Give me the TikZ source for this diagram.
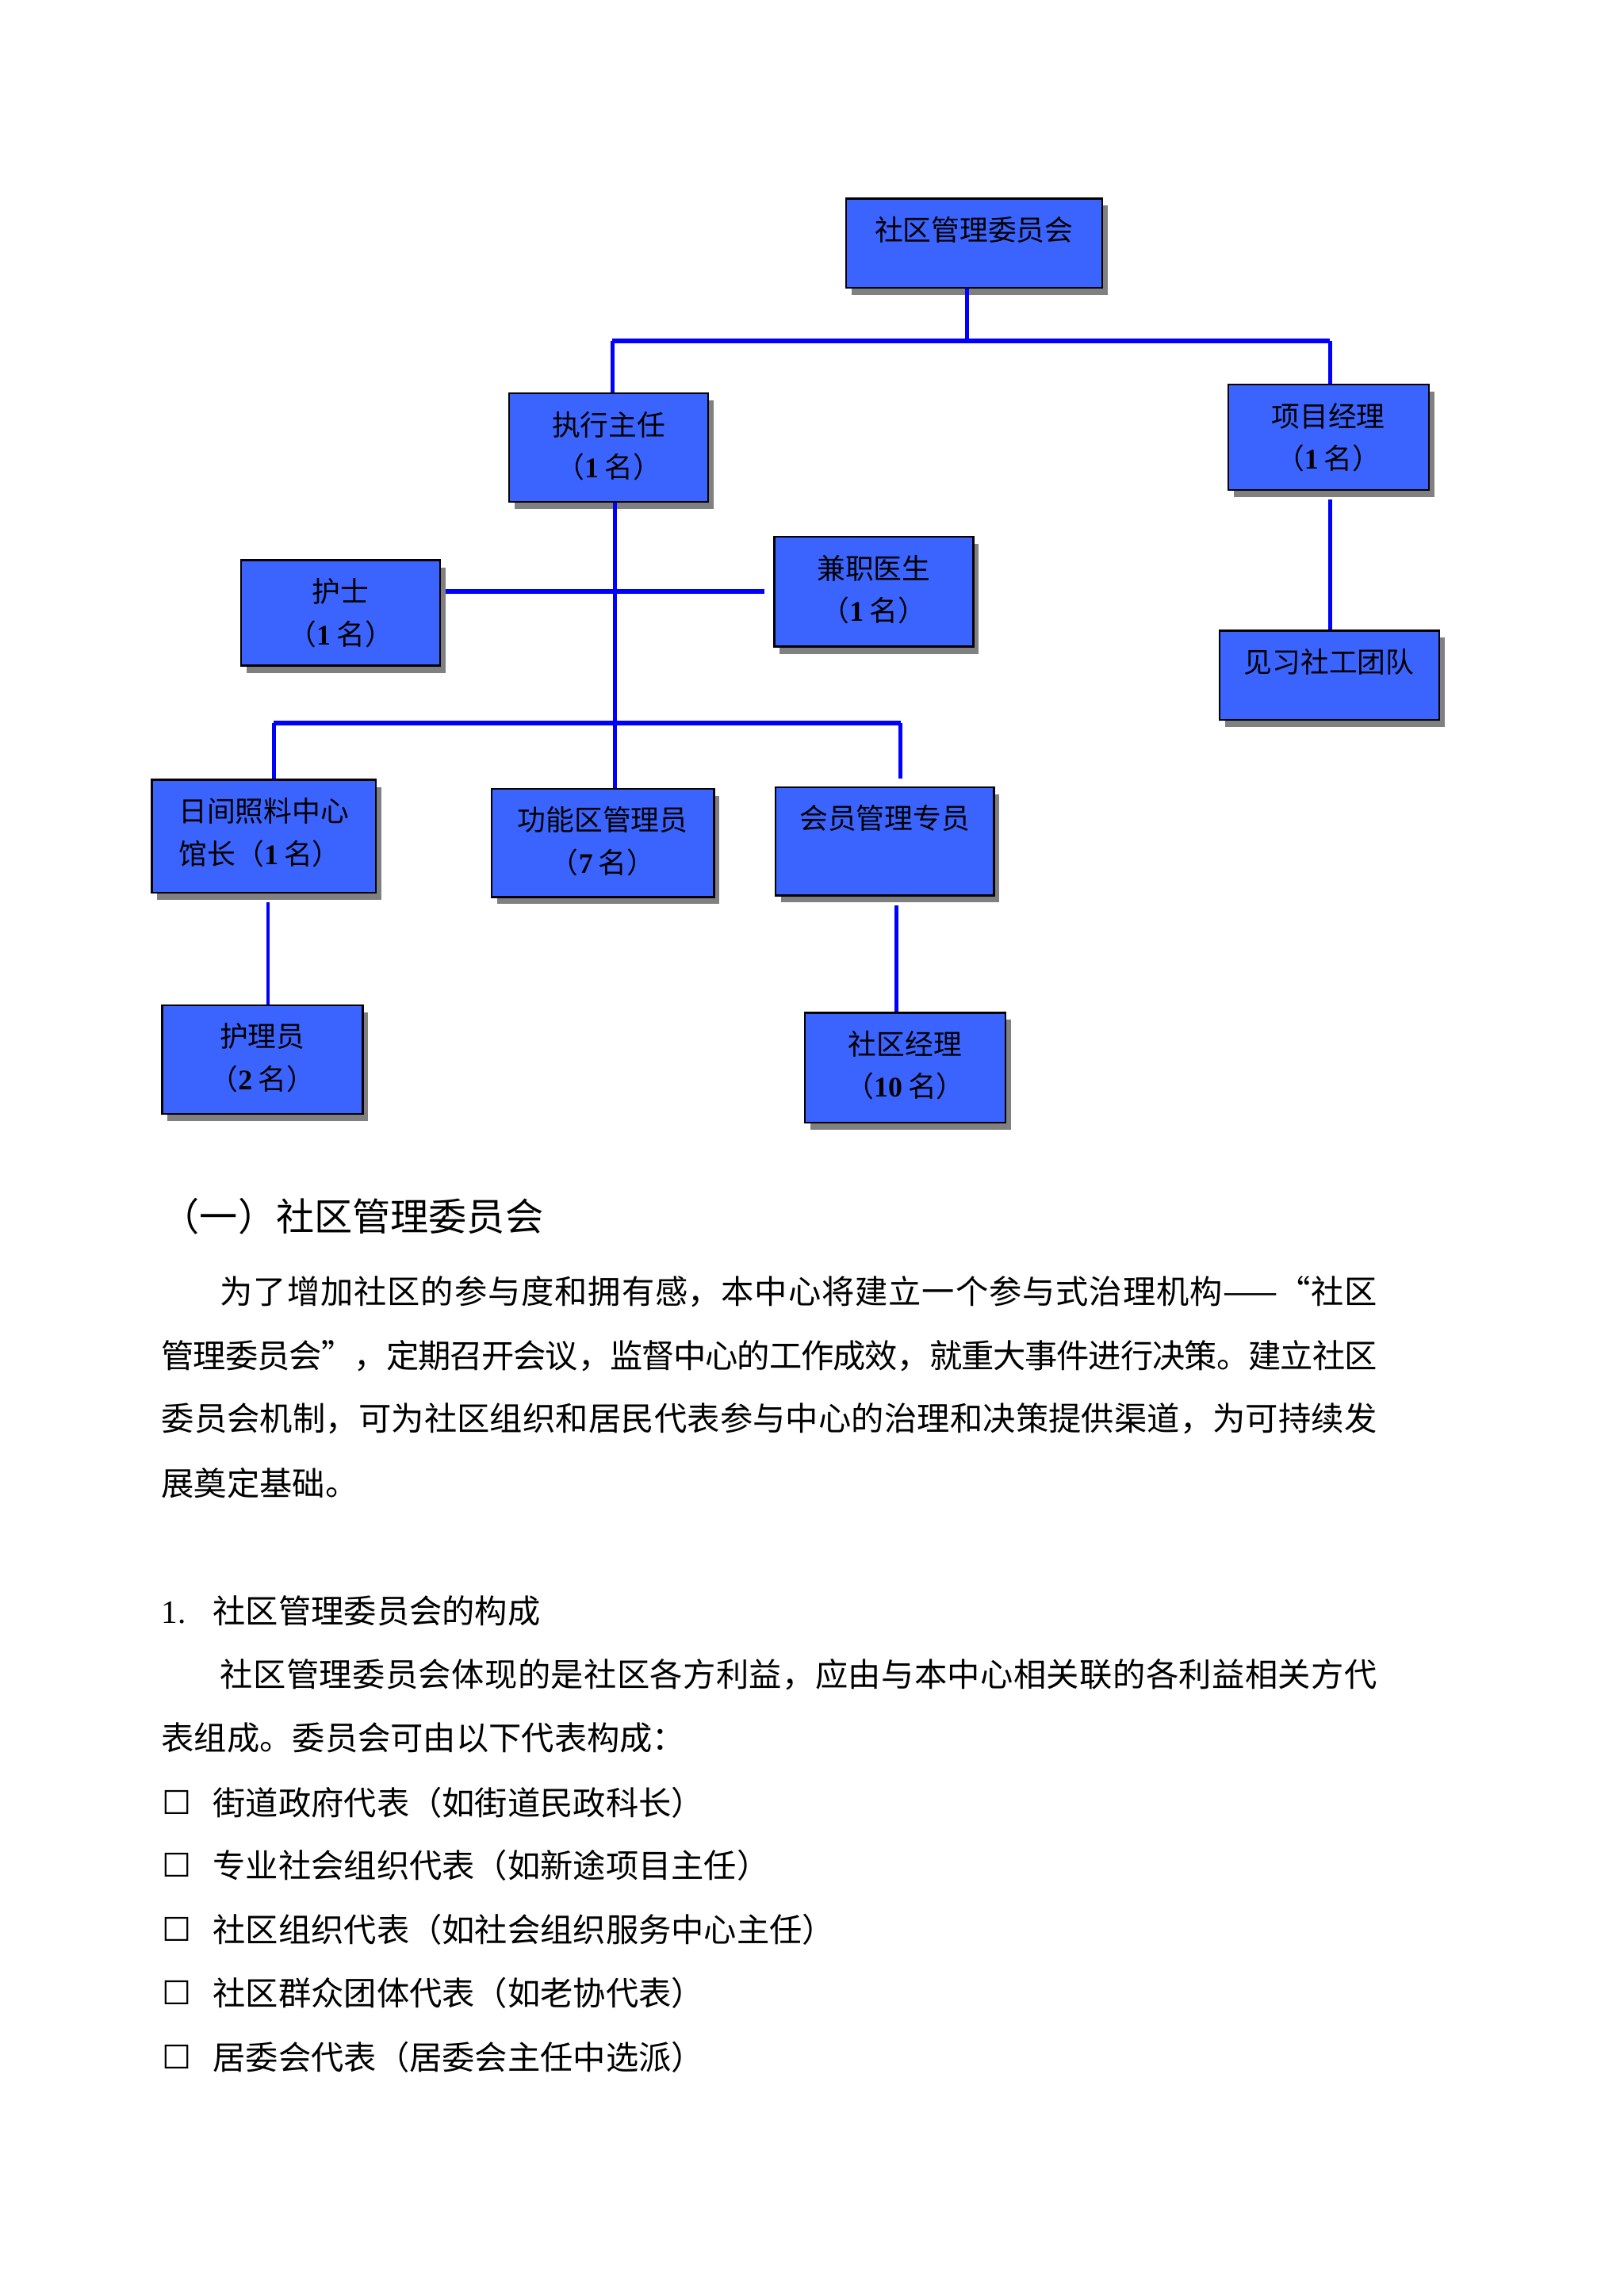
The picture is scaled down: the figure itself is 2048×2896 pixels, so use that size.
\documentclass[tikz,border=0pt]{standalone}
\usepackage{fontspec}
\setmainfont{Noto Sans CJK SC}
\newfontfamily\latin{Liberation Serif}
\newfontfamily\dejavu{DejaVu Sans}
\usetikzlibrary{calc,shadows}
\XeTeXlinebreaklocale "zh"
\XeTeXlinebreakskip=0pt plus 1pt minus 1pt
\definecolor{boxblue}{RGB}{59,100,255}
\definecolor{lineblue}{RGB}{0,0,255}
\definecolor{shadowgray}{RGB}{128,128,128}
\newcommand\num[1]{{\latin\bfseries #1}\hspace{0.2em}}
\newcommand\jl[2]{\parbox{#1}{\XeTeXlinebreaklocale "zh"\XeTeXlinebreakskip=0pt plus 1pt minus 1pt\parindent=0pt\parfillskip=0pt\relax #2}}
\newcommand\orgbox[5]{%
  \pgfmathsetmacro\bw{(#4-#2)*0.2907}%
  \pgfmathsetmacro\bh{(#5-#3)*0.2907}%
  \node[orgnode, minimum width=\bw pt, minimum height=\bh pt] (#1) at (#2,#3) {};}
\tikzset{
  orgnode/.style={draw=black, line width=0.7pt, fill=boxblue, anchor=north west, inner sep=0pt,
    drop shadow={shadow xshift=2pt, shadow yshift=-2.6pt, fill=shadowgray, opacity=1}},
  btxt/.style={font=\fontsize{10.4pt}{12pt}\selectfont, inner sep=0pt, anchor=center},
  body/.style={font=\fontsize{12pt}{14pt}\selectfont, inner sep=0pt, anchor=west},
  hl/.style={draw=lineblue, line width=1.75pt},
  vl/.style={draw=lineblue, line width=1.45pt},
}
\begin{document}
\begin{tikzpicture}[x=0.2907pt, y=-0.2907pt]
\fill[white] (0,0) rectangle (2048,2896);
\useasboundingbox (0,0) rectangle (2048,2896);

% ---------- boxes ----------
\orgbox{top}{1065.5}{249.3}{1388.7}{362.0}
\orgbox{exec}{640.8}{494.9}{892.0}{631.6}
\orgbox{pm}{1547.5}{483.8}{1800.5}{616.8}
\orgbox{nurse}{302.9}{705.4}{554.0}{838.4}
\orgbox{doctor}{975.1}{675.9}{1226.2}{814.4}
\orgbox{team}{1536.5}{794.1}{1813.5}{906.7}
\orgbox{day}{190.2}{982.4}{472.8}{1124.6}
\orgbox{func}{618.6}{993.5}{899.3}{1130.2}
\orgbox{member}{976.9}{991.7}{1252.1}{1128.3}
\orgbox{carer}{203.1}{1266.8}{456.1}{1403.5}
\orgbox{cm}{1013.8}{1276.1}{1266.8}{1414.6}

% ---------- box texts ----------
\node[btxt] (top-a) at ($(top.north)+(0,40.6)$) {社区管理委员会};
\node[btxt] (exec-a) at ($(exec.north)+(0,40.6)$) {执行主任};
\node[btxt] (exec-b) at ($(exec.north)+(0,94)$) {（\num{1}名）};
\node[btxt] (pm-a) at ($(pm.north)+(0,40.6)$) {项目经理};
\node[btxt] (pm-b) at ($(pm.north)+(0,94)$) {（\num{1}名）};
\node[btxt] (nurse-a) at ($(nurse.north)+(0,40.6)$) {护士};
\node[btxt] (nurse-b) at ($(nurse.north)+(0,94)$) {（\num{1}名）};
\node[btxt] (doctor-a) at ($(doctor.north)+(0,40.6)$) {兼职医生};
\node[btxt] (doctor-b) at ($(doctor.north)+(0,94)$) {（\num{1}名）};
\node[btxt] (team-a) at ($(team.north)+(0,40.6)$) {见习社工团队};
\node[btxt] (day-a) at ($(day.north)+(0,40.6)$) {日间照料中心};
\node[btxt] (day-b) at ($(day.north)+(-5,94)$) {馆长（\num{1}名）};
\node[btxt] (func-a) at ($(func.north)+(0,40.6)$) {功能区管理员};
\node[btxt] (func-b) at ($(func.north)+(0,94)$) {（\num{7}名）};
\node[btxt] (member-a) at ($(member.north)+(0,40.6)$) {会员管理专员};
\node[btxt] (carer-a) at ($(carer.north)+(0,40.6)$) {护理员};
\node[btxt] (carer-b) at ($(carer.north)+(0,94)$) {（\num{2}名）};
\node[btxt] (cm-a) at ($(cm.north)+(0,40.6)$) {社区经理};
\node[btxt] (cm-b) at ($(cm.north)+(0,94)$) {（\num{10}名）};

% ---------- connectors ----------
\coordinate (jM) at (1219,430);
\coordinate (jL) at (772,430);
\coordinate (jR) at (1677,430);
\draw[hl] (jL) -- (jR);
\draw[vl] (top.south -| jM) -- (jM);
\draw[vl] (jL) -- (exec.north -| jL);
\draw[vl] (jR) -- (pm.north -| jR);
\draw[vl] ($(pm.south -| jR)+(0,11)$) -- (team.north -| jR);

\coordinate (sA) at (775.6,746);
\coordinate (sB) at (775.6,912.3);
\draw[vl] (exec.south -| sA) -- (func.north -| sA);
\draw[hl] ($(nurse.east |- sA)+(6,0)$) -- ($(doctor.west |- sA)+(-11,0)$);

\coordinate (bL) at (345.3,912.3);
\coordinate (bR) at (1135.7,912.3);
\draw[hl] (bL) -- (bR);
\draw[vl] (bL) -- (day.north -| bL);
\draw[vl] (bR) -- ($(member.north -| bR)+(0,-10)$);

\coordinate (cL) at (338,1124.6);
\coordinate (cR) at (1130.2,1128.3);
\draw[vl] ($(day.south -| cL)+(0,11)$) -- (carer.north -| cL);
\draw[vl] ($(member.south -| cR)+(0,11)$) -- (cm.north -| cR);

% ---------- body text ----------
\node[body] (head1) at (203,1534.6) {\fontsize{14pt}{16pt}\selectfont （一）社区管理委员会};
\node[body] (p1) at (277,1628.8) {\jl{424.1pt}{为了增加社区的参与度和拥有感，本中心将建立一个参与式治理机构——“社区}};
\node[body] (p2) at (203,1710.0) {\jl{445.6pt}{管理委员会”，定期召开会议，监督中心的工作成效，就重大事件进行决策。建立社区}};
\node[body] (p3) at (203,1789.5) {\jl{445.6pt}{委员会机制，可为社区组织和居民代表参与中心的治理和决策提供渠道，为可持续发}};
\node[body] (p4) at (203,1870.7) {展奠定基础。};

\node[body] (head2) at (203,2031.4) {\makebox[18.9pt][l]{\latin 1.}社区管理委员会的构成};
\node[body] (q1) at (277,2112.6) {\jl{424.1pt}{社区管理委员会体现的是社区各方利益，应由与本中心相关联的各利益相关方代}};
\node[body] (q2) at (203,2192.0) {表组成。委员会可由以下代表构成：};

\foreach \yy/\txt [count=\i] in {2273.3/街道政府代表（如街道民政科长）,
  2352.7/专业社会组织代表（如新途项目主任）,
  2433.9/社区组织代表（如社会组织服务中心主任）,
  2513.4/社区群众团体代表（如老协代表）,
  2594.6/居委会代表（居委会主任中选派）}{
  \node[inner sep=0pt, font=\dejavu\fontsize{12pt}{14pt}\selectfont] (cb\i) at (223.5,\yy) {☐};
  \node[body] (it\i) at (268,\yy) {\txt};
}
\end{tikzpicture}
\end{document}
